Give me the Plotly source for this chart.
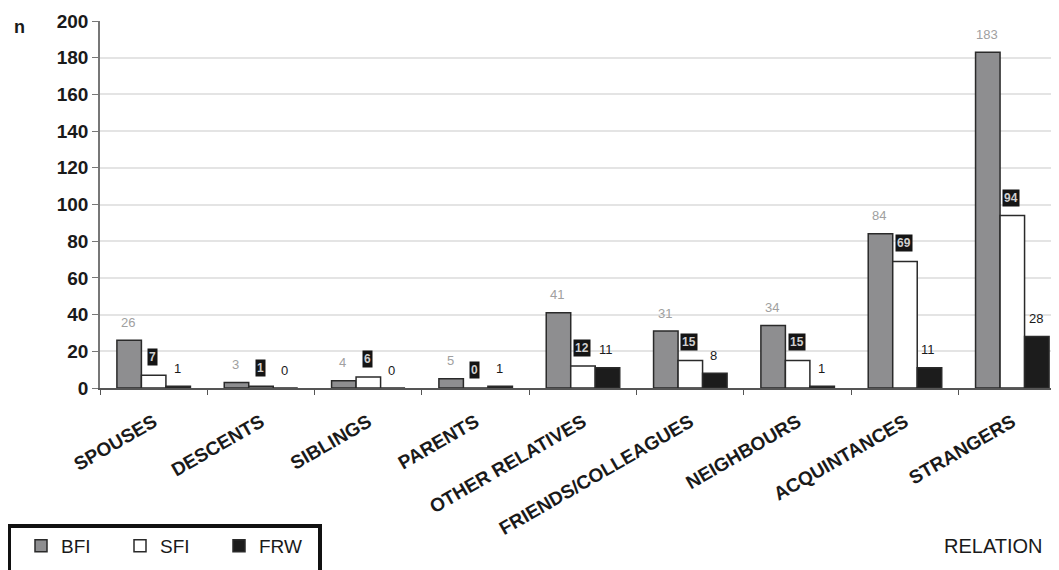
import plotly.graph_objects as go

categories = ["SPOUSES", "DESCENTS", "SIBLINGS", "PARENTS", "OTHER RELATIVES",
              "FRIENDS/COLLEAGUES", "NEIGHBOURS", "ACQUINTANCES", "STRANGERS"]
bfi = [26, 3, 4, 5, 41, 31, 34, 84, 183]
sfi = [7, 1, 6, 0, 12, 15, 15, 69, 94]
frw = [1, 0, 0, 1, 11, 8, 1, 11, 28]
y_ticks = [0, 20, 40, 60, 80, 100, 120, 140, 160, 180, 200]

FONT = "Liberation Sans, Arial, sans-serif"
OFF = 8  # default page body margin
W, H = 1059 - OFF, 570 - OFF
PL, PR, PT, PB = 100, 1059, 21, 388  # plot area in page pixels
ML, MR, MT, MB = PL - OFF, 0, PT - OFF, H - (PB - OFF)
PW = PR - PL
PH = PB - PT

def px_x(p):
    return (p - PL) / PW

def px_y(p):
    return (PB - p) / PH

series = [
    ("BFI", bfi, "#8e8e90"),
    ("SFI", sfi, "#ffffff"),
    ("FRW", frw, "#1c1c1c"),
]

fig = go.Figure()
for name, vals, col in series:
    fig.add_trace(go.Bar(
        name=name, x=categories, y=vals,
        marker=dict(color=col, line=dict(color="#2a2a2a", width=1.5)),
    ))

bar_px = 24.5
annotations = []
for i, (name, vals, col) in enumerate(series):
    for c, v in zip(categories, vals):
        a = dict(x=c, y=v, xref="x", yref="y", text=str(v), showarrow=False,
                 xshift=(i - 1) * bar_px - 1, yshift=18, yanchor="middle",
                 font=dict(family=FONT, size=13))
        if i == 0:
            a["font"]["color"] = "#a0a0a0"
        elif i == 1:
            a["font"].update(color="#cfcfcf", size=12, weight="bold")
            a["bgcolor"] = "#151515"
            a["borderpad"] = 1
        else:
            a["font"]["color"] = "#1a1a1a"
        annotations.append(a)

annotations.append(dict(x=px_x(19), y=px_y(27), xref="paper", yref="paper",
                        text="<b>n</b>", showarrow=False, xanchor="center", yanchor="middle",
                        font=dict(family=FONT, size=18, color="#1a1a1a")))
annotations.append(dict(x=px_x(1045), y=px_y(546), xref="paper", yref="paper",
                        text="RELATION", showarrow=False, xanchor="right", yanchor="middle",
                        font=dict(family=FONT, size=20, color="#1a1a1a")))

fig.update_layout(
    width=W, height=H,
    margin=dict(l=ML, r=MR, t=MT, b=MB),
    paper_bgcolor="white", plot_bgcolor="white",
    barmode="group", bargap=0.315, bargroupgap=0,
    font=dict(family=FONT, color="#1a1a1a"),
    annotations=annotations,
    showlegend=True,
    legend=dict(orientation="h", x=px_x(21), y=px_y(546), xanchor="left", yanchor="middle",
                font=dict(family=FONT, size=19, color="#1a1a1a"),
                bgcolor="rgba(0,0,0,0)", borderwidth=0,
                entrywidth=54, entrywidthmode="pixels", traceorder="normal"),
    shapes=[dict(type="rect", xref="paper", yref="paper",
                 x0=px_x(9), x1=px_x(320), y0=px_y(526), y1=px_y(600),
                 line=dict(color="#111111", width=4), fillcolor="rgba(0,0,0,0)")],
)

fig.update_xaxes(
    range=[-0.5, 8.435],
    showline=True, linecolor="#555555", linewidth=1.5,
    ticks="outside", tickson="boundaries", ticklen=5, tickcolor="#555555",
    tickangle=-30, showgrid=False, ticklabelstandoff=14,
    tickfont=dict(family=FONT, size=19, color="#1a1a1a", weight="bold"),
)
fig.update_yaxes(
    range=[0, 200], tickvals=y_ticks,
    showline=True, linecolor="#777777", linewidth=1.5,
    ticks="outside", ticklen=6, tickcolor="#777777",
    showgrid=True, gridcolor="#e4e4e4", gridwidth=2, zeroline=False,
    tickfont=dict(family=FONT, size=19, color="#1a1a1a", weight="bold"),
)

fig.write_html("out.html")
